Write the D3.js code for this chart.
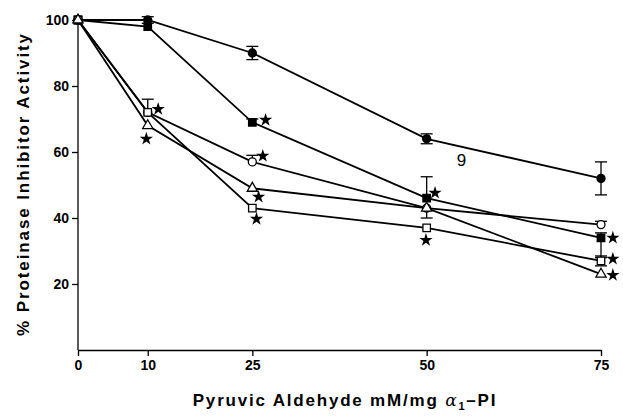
<!DOCTYPE html>
<html>
<head>
<meta charset="utf-8">
<script src="https://cdn.jsdelivr.net/npm/d3@7"></script>
<style>
  body { margin: 0; background: #fff; }
  svg { display: block; font-family: "Liberation Sans", Arial, sans-serif; }
</style>
</head>
<body>
<script>
var width = 623, height = 418;

// concentrations (mM/mg)
var doses = [0, 10, 25, 50, 75];

// % proteinase inhibitor activity, one list per curve
var filledCircle = [100, 100, 90, 64, 52];
var filledSquare = [100, 98, 69, 46, 34];
var openCircle   = [100, 72, 57, 43, 38];
var openSquare   = [100, 72, 43, 37, 27];
var openTriangle = [100, 68, 49, 43, 23];

// error bars (above / below the point)
var fcUp = [0, 1, 2, 1.5, 5],   fcDown = [0, 1, 2, 1.5, 5];
var fsUp = [0, 0, 1, 6.5, 1.5], fsDown = [0, 0, 0, 0, 6];
var ocUp = [0, 0, 2, 0, 1],     ocDown = [0, 0, 0, 3, 0];
var osUp = [0, 4, 0, 0, 1.5],   osDown = [0, 0, 0, 0, 1.5];
var otUp = [0, 0, 0, 0, 0],     otDown = [0, 0, 0, 0, 0];

// significance stars, read in data units
var starX = [11.5, 9.8, 26.9, 26.5, 25.9, 25.6, 51.2, 49.9, 76.7, 76.7, 76.7];
var starY = [73, 64, 69.7, 58.8, 46.4, 39.7, 47.6, 33.3, 34, 27.6, 22.7];

var yTicks = [20, 40, 60, 80, 100];
var xTicks = [0, 10, 25, 50, 75];

var series = [
  {vals: filledCircle, up: fcUp, down: fcDown, shape: "circle", fill: "#000"},
  {vals: filledSquare, up: fsUp, down: fsDown, shape: "square", fill: "#000"},
  {vals: openCircle,   up: ocUp, down: ocDown, shape: "circle", fill: "#fff"},
  {vals: openSquare,   up: osUp, down: osDown, shape: "square", fill: "#fff"},
  {vals: openTriangle, up: otUp, down: otDown, shape: "triangle", fill: "#fff"}
];

var x = d3.scaleLinear().domain([0, 75]).range([78, 601]);
var y = d3.scaleLinear().domain([0, 100]).range([350, 20]);

var svg = d3.select("body").append("svg")
  .attr("width", width)
  .attr("height", height);

// axes
var yAxis = svg.append("g")
  .attr("transform", "translate(78,0)")
  .call(d3.axisLeft(y).tickValues(yTicks).tickSize(6).tickPadding(3).tickSizeOuter(0));
var xAxis = svg.append("g")
  .attr("transform", "translate(0,350)")
  .call(d3.axisBottom(x).tickValues(xTicks).tickSize(6).tickPadding(4).tickSizeOuter(0));

[yAxis, xAxis].forEach(function(g){
  g.select(".domain").attr("stroke", "#000").attr("stroke-width", 1.3);
  g.selectAll(".tick line").attr("stroke", "#000").attr("stroke-width", 1.3);
  g.selectAll(".tick text")
    .attr("fill", "#000")
    .style("font-size", "14px")
    .style("font-weight", "bold");
});
// y domain runs from 0 to 100
yAxis.select(".domain").attr("d", "M0," + y(100) + "V" + y(0));

// lines
var line = d3.line()
  .x(function(d, i){ return x(doses[i]); })
  .y(function(d){ return y(d); });

svg.append("g").selectAll("path")
  .data(series)
  .enter().append("path")
  .attr("d", function(s){ return line(s.vals); })
  .attr("fill", "none")
  .attr("stroke", "#000")
  .attr("stroke-width", 1.8);

// error bars
var bars = [];
series.forEach(function(s){
  s.vals.forEach(function(v, i){
    if (s.up[i] > 0) bars.push({x: doses[i], from: v, to: v + s.up[i]});
    if (s.down[i] > 0) bars.push({x: doses[i], from: v, to: v - s.down[i]});
  });
});
var eb = svg.append("g").attr("stroke", "#000").attr("stroke-width", 1.3);
eb.selectAll("line.v").data(bars).enter().append("line")
  .attr("x1", function(d){ return x(d.x); })
  .attr("x2", function(d){ return x(d.x); })
  .attr("y1", function(d){ return y(d.from); })
  .attr("y2", function(d){ return y(d.to); });
eb.selectAll("line.c").data(bars).enter().append("line")
  .attr("x1", function(d){ return x(d.x) - 6; })
  .attr("x2", function(d){ return x(d.x) + 6; })
  .attr("y1", function(d){ return y(d.to); })
  .attr("y2", function(d){ return y(d.to); });

// markers
var symbols = {
  circle: d3.symbol().type(d3.symbolCircle).size(50),
  square: d3.symbol().type(d3.symbolSquare).size(56),
  triangle: d3.symbol().type(d3.symbolTriangle).size(45)
};
series.forEach(function(s){
  svg.append("g").selectAll("path")
    .data(s.vals)
    .enter().append("path")
    .attr("transform", function(d, i){ return "translate(" + x(doses[i]) + "," + y(d) + ")"; })
    .attr("d", symbols[s.shape]())
    .attr("fill", s.fill)
    .attr("stroke", "#000")
    .attr("stroke-width", 1.3);
});

// stars
svg.append("g").selectAll("path")
  .data(starX)
  .enter().append("path")
  .attr("transform", function(d, i){ return "translate(" + x(d) + "," + y(starY[i]) + ")"; })
  .attr("d", d3.symbol().type(d3.symbolStar).size(55)())
  .attr("fill", "#000");

// curve label
svg.append("text")
  .attr("x", x(55)).attr("y", y(57.5)).attr("dy", "0.35em")
  .attr("text-anchor", "middle")
  .style("font-size", "17px")
  .text("9");

// axis titles
svg.append("text")
  .attr("transform", "translate(29,184) rotate(-90)")
  .attr("text-anchor", "middle")
  .style("font-size", "17px")
  .style("font-weight", "bold")
  .style("letter-spacing", "1.9px")
  .text("% Proteinase Inhibitor Activity");

var xt = svg.append("text")
  .attr("x", 345).attr("y", 406)
  .attr("text-anchor", "middle")
  .style("font-size", "17px")
  .style("font-weight", "bold")
  .style("letter-spacing", "1.8px");
xt.append("tspan").text("Pyruvic Aldehyde mM/mg ");
xt.append("tspan").style("font-family", "'DejaVu Serif', serif").style("font-style", "italic").style("font-weight", "normal").text("α");
xt.append("tspan").attr("dy", 4).style("font-size", "11px").text("1");
xt.append("tspan").attr("dy", -4).text("–PI");
</script>
</body>
</html>
